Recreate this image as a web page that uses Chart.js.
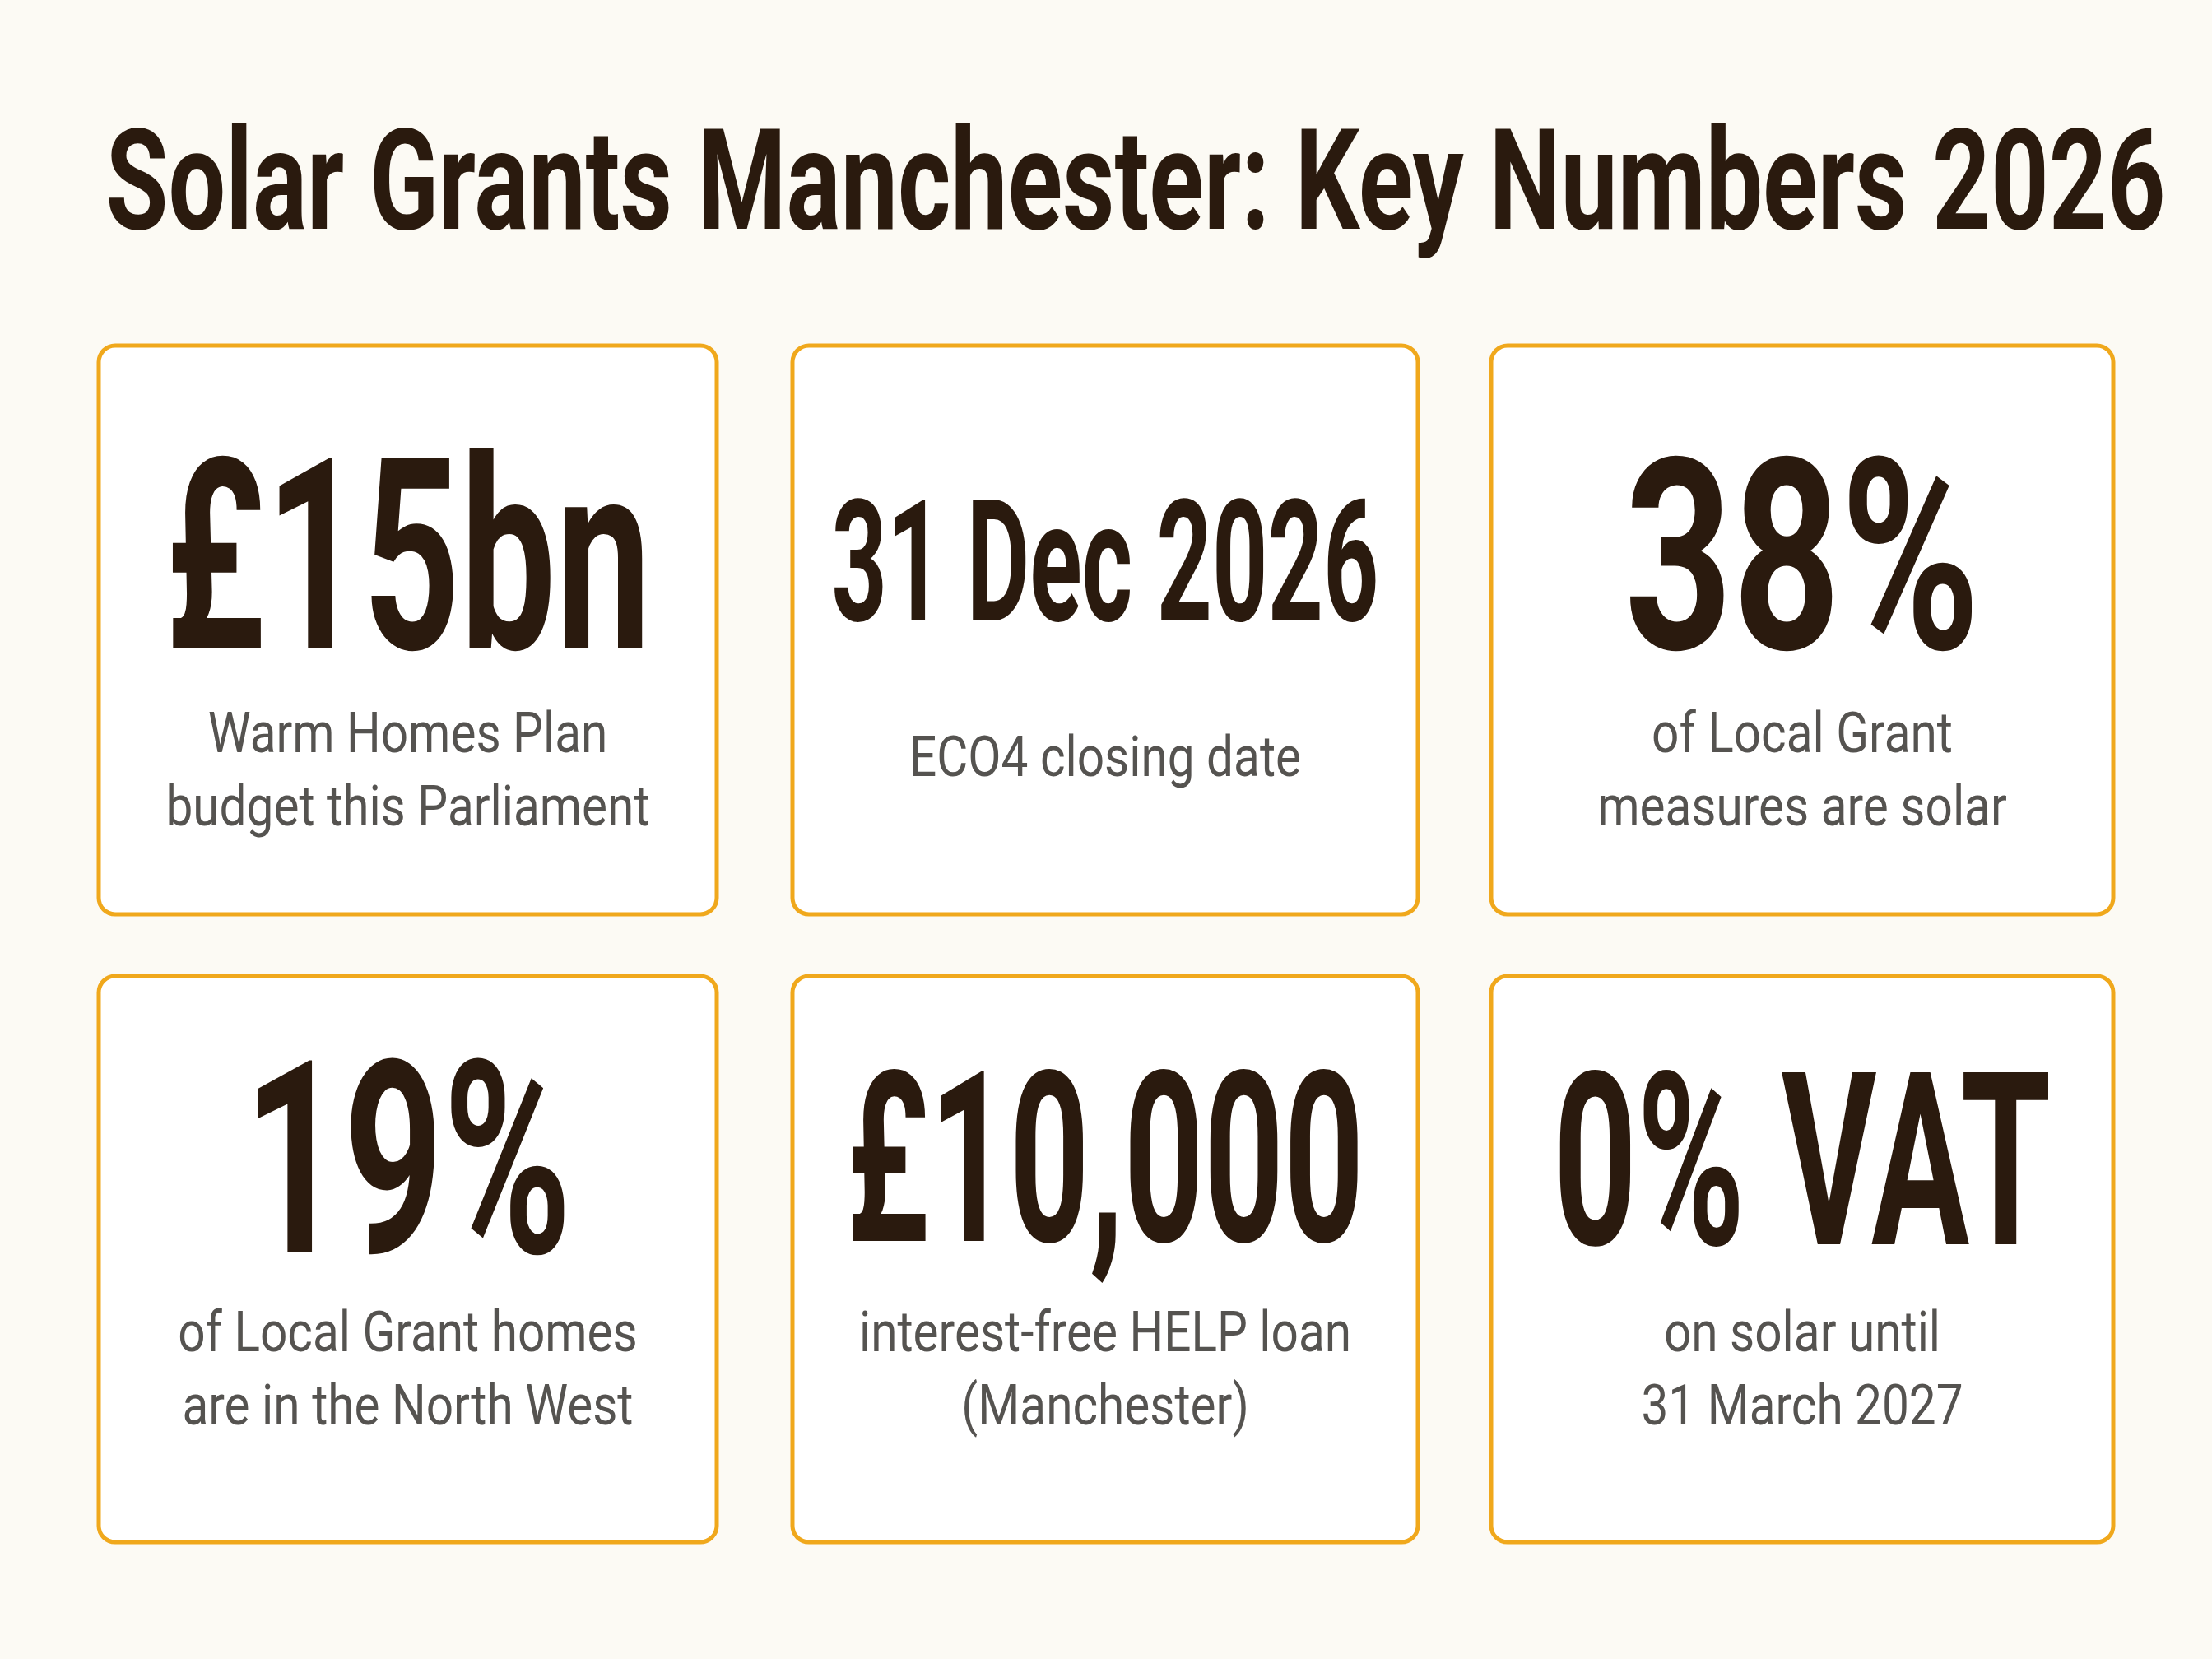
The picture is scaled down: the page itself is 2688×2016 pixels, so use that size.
<!DOCTYPE html>
<html><head><meta charset="utf-8">
<script src="https://cdn.jsdelivr.net/npm/chart.js@4.4.1/dist/chart.umd.min.js"></script>
<style>html,body{margin:0;padding:0;background:#FCFAF4;}canvas{display:block}</style>
</head><body>
<div style="width:2688px;height:2016px"><canvas id="c" width="2688" height="2016"></canvas></div>
<script>
const title = "Solar Grants Manchester: Key Numbers 2026";
const bigValues = ["£15bn", "31 Dec 2026", "38%", "19%", "£10,000", "0% VAT"];
const captions = [
  ["Warm Homes Plan", "budget this Parliament"],
  ["ECO4 closing date"],
  ["of Local Grant", "measures are solar"],
  ["of Local Grant homes", "are in the North West"],
  ["interest-free HELP loan", "(Manchester)"],
  ["on solar until", "31 March 2027"]
];
// layout (pixel styling only)
const cardX = [[120,871],[963,1723],[1812,2568]];
const cardY = [[420,1111],[1186,1874]];
const bigStyle = [
  {base:788,w:591,cap:231},{base:754,w:665,cap:146},{base:788,w:432,cap:231},
  {base:1522,w:398,cap:233},{base:1508,w:629,cap:206},{base:1512,w:605,cap:209}
];
const capBase = [[914,1003],[943],[914,1003],[1642,1731],[1642,1731],[1642,1731]];

function fitText(ctx, text, cx, base, font, w, color, sx){
  ctx.save(); ctx.font = font; ctx.fillStyle = color;
  const m = ctx.measureText(text).width;
  const s = w ? w/m : (sx||1);
  ctx.translate(cx, base); ctx.scale(s,1);
  ctx.textAlign='center'; ctx.textBaseline='alphabetic';
  ctx.fillText(text,0,0); ctx.restore();
}
function rr(ctx,x,y,w,h,r){ctx.beginPath();ctx.moveTo(x+r,y);ctx.arcTo(x+w,y,x+w,y+h,r);ctx.arcTo(x+w,y+h,x,y+h,r);ctx.arcTo(x,y+h,x,y,r);ctx.arcTo(x,y,x+w,y,r);ctx.closePath();}

const infographic = {
  id:'infographic',
  afterDraw(chart){
    const ctx = chart.ctx;
    ctx.save();
    ctx.fillStyle='#FCFAF4'; ctx.fillRect(0,0,chart.width,chart.height);
    fitText(ctx,title,1380,278,'bold 170px Roboto, "DejaVu Sans", sans-serif',2503,'#2A1A0E');
    bigValues.forEach((v,i)=>{
      const col=i%3,row=Math.floor(i/3);
      const [x0,x1]=cardX[col],[y0,y1]=cardY[row];
      rr(ctx,x0,y0,x1-x0,y1-y0,20);
      ctx.fillStyle='#FFFFFF'; ctx.fill();
      ctx.lineWidth=5; ctx.strokeStyle='#F0A81C'; ctx.stroke();
      const cx=(x0+x1)/2, st=bigStyle[i];
      fitText(ctx,v,cx,st.base,`bold ${Math.round(st.cap/0.71)}px Roboto, "DejaVu Sans", sans-serif`,st.w,'#2A1A0E');
      captions[i].forEach((t,j)=>{
        fitText(ctx,t,cx,capBase[i][j],'68px Roboto, "DejaVu Sans", sans-serif',null,'#555350',0.86);
      });
    });
    ctx.restore();
  }
};

new Chart(document.getElementById('c'),{
  type:'bar',
  data:{labels:bigValues,datasets:[{data:bigValues.map(()=>0),backgroundColor:'rgba(0,0,0,0)'}]},
  options:{responsive:false,animation:false,devicePixelRatio:1,
    plugins:{legend:{display:false},tooltip:{enabled:false}},
    scales:{x:{display:false},y:{display:false}}},
  plugins:[infographic]
});
</script>
</body></html>
